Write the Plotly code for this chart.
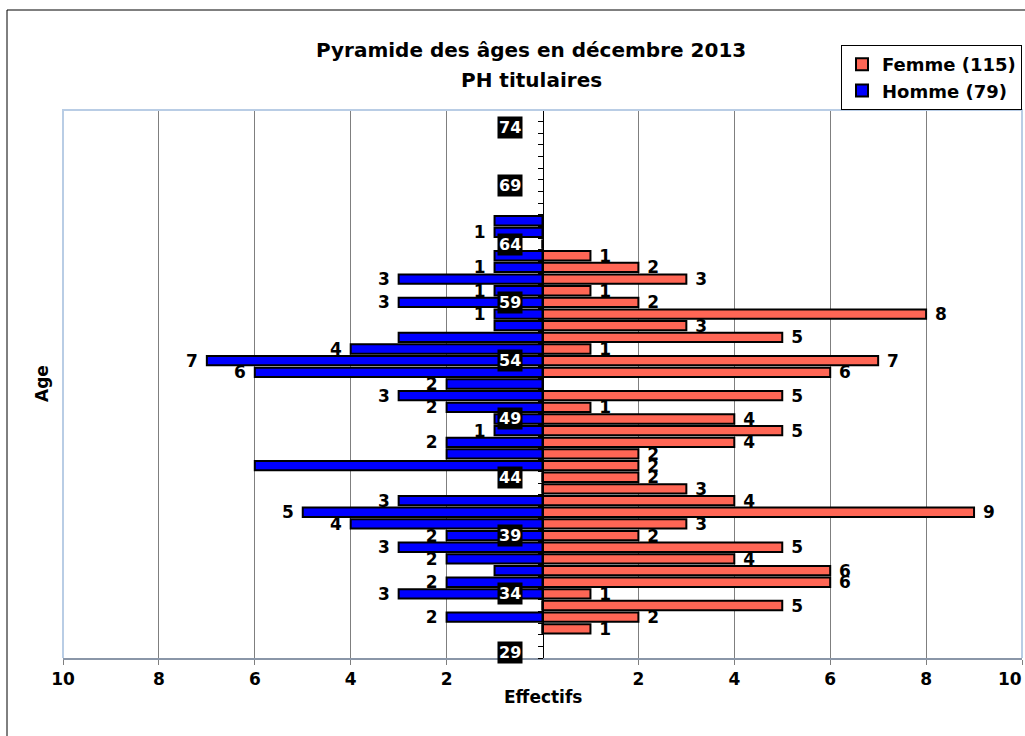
import plotly.graph_objects as go

# Effectifs par âge (PH titulaires, décembre 2013)
ages = list(range(31, 67))
femme = [1, 2, 5, 1, 6, 6, 4, 5, 2, 3, 9, 4, 3, 2, 2, 2, 4, 5, 4, 1,
         5, 0, 6, 7, 1, 5, 3, 8, 2, 1, 3, 2, 1, 0, 0, 0]
homme = [0, 2, 0, 3, 2, 1, 2, 3, 2, 4, 5, 3, 0, 0, 6, 2, 2, 1, 1, 2,
         3, 2, 6, 7, 4, 3, 1, 1, 3, 1, 3, 1, 1, 0, 1, 1]
# ages whose male value label is not printed
homme_sans_etiquette = [36, 45, 46, 49, 56, 57, 63, 66]

age_ticks = [29, 34, 39, 44, 49, 54, 59, 64, 69, 74]
effectif_ticks = [-10, -8, -6, -4, -2, 2, 4, 6, 8, 10]

titre = "Pyramide des âges en décembre 2013"
sous_titre = "PH titulaires"

FONT = "DejaVu Sans"
W, H = 1025, 736
L, R, T, B = 63, 3, 110, 78
PH = H - T - B


def py(px):
    """pixel row -> paper y"""
    return (H - B - px) / PH


def px_(x):
    """pixel column -> paper x"""
    return (x - L) / (W - L - R)


# value labels, padded with a space on the side facing the bar
txt_f = [" " + str(v) if v else "" for v in femme]
txt_h = ["" if (v == 0 or a in homme_sans_etiquette) else str(v) + " "
         for a, v in zip(ages, homme)]

label_font = dict(family=FONT, size=17, color="black", weight="bold")

fig = go.Figure()
fig.add_trace(go.Bar(
    y=ages, x=femme, orientation="h", name="Femme (115)",
    width=0.8, marker=dict(color="#FF6655", line=dict(color="black", width=2)),
    text=txt_f, textposition="outside", constraintext="none", cliponaxis=False,
    textfont=label_font, hoverinfo="skip",
))
fig.add_trace(go.Bar(
    y=ages, x=[-v for v in homme], orientation="h", name="Homme (79)",
    width=0.8, marker=dict(color="#0000FF", line=dict(color="black", width=2)),
    text=txt_h, textposition="outside", constraintext="none", cliponaxis=False,
    textfont=label_font, hoverinfo="skip",
))

bold = lambda s: dict(family=FONT, size=s, color="black", weight="bold")
annotations = [
    dict(text=titre, x=px_(531), y=py(50), xref="paper", yref="paper",
         xanchor="center", yanchor="middle", showarrow=False, font=bold(20)),
    dict(text=sous_titre, x=px_(531), y=py(80), xref="paper", yref="paper",
         xanchor="center", yanchor="middle", showarrow=False, font=bold(20)),
    dict(text="Effectifs", x=0.5, y=py(697), xref="paper", yref="paper",
         xanchor="center", yanchor="middle", showarrow=False, font=bold(17)),
    dict(text="Age", x=px_(42), y=0.5, xref="paper", yref="paper", textangle=-90,
         xanchor="center", yanchor="middle", showarrow=False, font=bold(17)),
    # right-most scale label, kept inside the page edge
    dict(text="10", x=10, y=py(679), xref="x", yref="paper", xshift=2,
         xanchor="right", yanchor="middle", showarrow=False, font=bold(17)),
]
for a in age_ticks:
    annotations.append(dict(
        text=str(a), x=-0.4, y=a, xref="x", yref="y", xanchor="right",
        yanchor="middle", showarrow=False, bgcolor="black", borderpad=1,
        font=dict(family=FONT, size=16, color="white", weight="bold"),
    ))

shapes = [
    # chart frame
    dict(type="rect", xref="paper", yref="paper", x0=px_(7), x1=1.2,
         y0=-0.3, y1=py(10), line=dict(color="black", width=1), layer="below"),
    # plot area frame (top, left, right)
    dict(type="path", xref="paper", yref="paper",
         path="M 0 0 L 0 1 L 1 1 L 1 0", line=dict(color="#B9CDE5", width=2),
         layer="above"),
]

fig.update_layout(
    width=W, height=H,
    margin=dict(l=L, r=R, t=T, b=B),
    paper_bgcolor="white", plot_bgcolor="white",
    barmode="overlay",
    showlegend=True,
    legend=dict(
        x=1.0, xanchor="right", y=py(45), yanchor="top",
        bgcolor="white", bordercolor="black", borderwidth=1,
        font=bold(18), traceorder="normal", itemclick=False,
    ),
    annotations=annotations,
    shapes=shapes,
    font=dict(family=FONT, color="black"),
)

fig.update_xaxes(
    range=[-10, 10], tickvals=effectif_ticks,
    ticktext=[str(abs(v)) if v != 10 else "" for v in effectif_ticks],
    showgrid=True, gridcolor="#7F7F7F", gridwidth=1, zeroline=False,
    showline=True, linecolor="#8A96A8", linewidth=2,
    ticks="outside", ticklen=5, tickcolor="#7F7F7F",
    tickfont=bold(17),
)
fig.update_yaxes(
    range=[28.5, 75.5], anchor="free", position=0.5,
    tickvals=[v + 0.5 for v in range(28, 76)],
    showticklabels=False, ticks="outside", ticklen=5, tickcolor="black",
    showgrid=False, zeroline=False,
    showline=True, linecolor="black", linewidth=1,
)

fig.write_html("out.html")
